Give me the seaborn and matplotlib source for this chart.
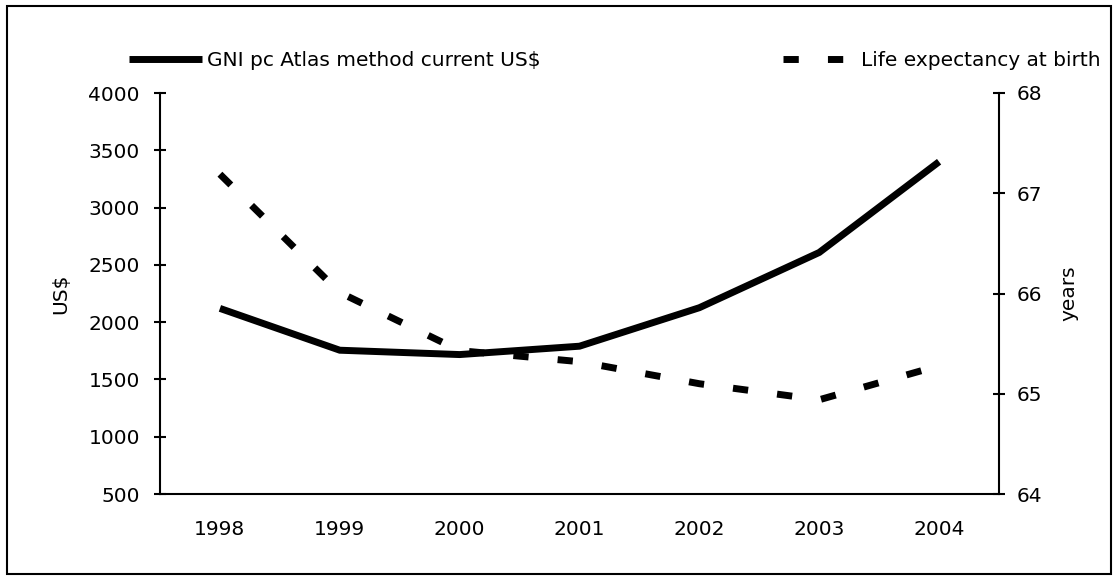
import seaborn as sns
import matplotlib.pyplot as plt
import pandas as pd
from matplotlib.patches import Rectangle

years = ['1998', '1999', '2000', '2001', '2002', '2003', '2004']
gni = [2120, 1755, 1717, 1790, 2126, 2608, 3400]
life = [67.19, 66.01, 65.43, 65.32, 65.10, 64.94, 65.28]

sns.set_style("white")
plt.rcParams['font.family'] = ['DejaVu Sans']
plt.rcParams.update({'text.color': 'black', 'axes.labelcolor': 'black',
                     'xtick.color': 'black', 'ytick.color': 'black'})
fs = 14.5

df = pd.DataFrame({'year': years, 'gni': gni, 'life': life})
df['pos'] = range(len(years))

fig = plt.figure(figsize=(11.18, 5.8), dpi=100)
ax = fig.add_axes([160 / 1118, 1 - 494 / 580, (999 - 160) / 1118, (494 - 93) / 580])
ax2 = ax.twinx()

sns.lineplot(data=df, x='pos', y='gni', ax=ax, color='black', lw=5,
             label='GNI pc Atlas method current US$', legend=False)
sns.lineplot(data=df, x='pos', y='life', ax=ax2, color='black', lw=5,
             label='Life expectancy at birth', legend=False)
for ln in ax.lines + ax2.lines:
    ln.set_solid_capstyle('butt')
    ln.set_dash_capstyle('butt')
    ln.set_solid_joinstyle('miter')
ax2.lines[0].set_dashes((2.2, 4.2))

ax.set_xlim(-0.5, len(years) - 0.5)
ax.set_ylim(500, 4000)
ax2.set_ylim(64, 68)
ax.set_yticks(range(500, 4001, 500))
ax2.set_yticks(range(64, 69))

# boundary ticks on the category axis, labels centred between them
ax.set_xticks([i - 0.5 for i in range(len(years) + 1)])
ax.set_xticklabels([])
ax.set_xticks(df['pos'], minor=True)
ax.set_xticklabels(years, minor=True)
ax.tick_params(axis='x', which='major', direction='inout', length=9, width=1.5)
ax.tick_params(axis='x', which='minor', length=0, pad=19, labelsize=fs)
ax.tick_params(axis='y', direction='inout', length=9, width=1.5, labelsize=fs, pad=10)
ax2.tick_params(axis='y', direction='inout', length=9, width=1.5, labelsize=fs, pad=8.5)

ax.set_xlabel('')
ax.set_ylabel('US$', fontsize=fs, labelpad=13)
ax2.set_ylabel('years', fontsize=fs, labelpad=12)

for a in (ax, ax2):
    a.spines['top'].set_visible(False)
    for s in ('left', 'right', 'bottom'):
        a.spines[s].set_color('black')
        a.spines[s].set_linewidth(1.5)
ax.spines['right'].set_visible(False)
ax2.spines['left'].set_visible(False)
ax2.spines['bottom'].set_visible(False)

h1, l1 = ax.get_legend_handles_labels()
h2, l2 = ax2.get_legend_handles_labels()
leg_kw = dict(loc='center left', frameon=False, fontsize=fs, handlelength=3.63,
              handletextpad=0.25, borderaxespad=0, borderpad=0)
fig.legend(h1, l1, bbox_to_anchor=(129 / 1118, 1 - 61 / 580), **leg_kw)
fig.legend(h2, l2, bbox_to_anchor=(783 / 1118, 1 - 61 / 580), **leg_kw)

fig.patches.append(Rectangle((7 / 1118, 6 / 580), 1104 / 1118, 568 / 580, transform=fig.transFigure,
                             fill=False, edgecolor='black', linewidth=1.5))

fig.savefig('out.png', dpi=100)
